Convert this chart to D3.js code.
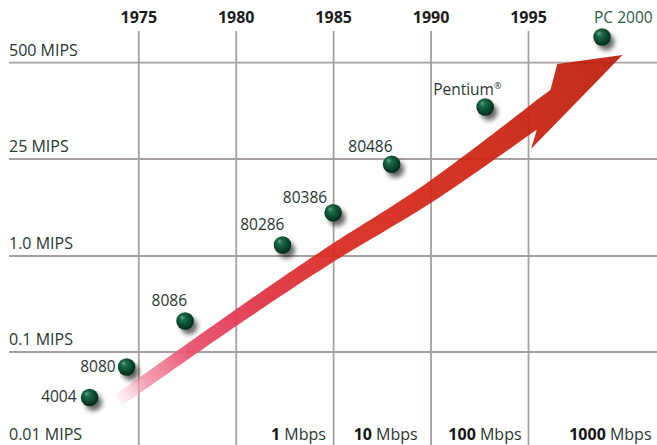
<!DOCTYPE html>
<html><head><meta charset="utf-8">
<script src="https://cdn.jsdelivr.net/npm/d3@7"></script>
<style>html,body{margin:0;padding:0;background:#fff;} svg{display:block;font-family:"Open Sans",sans-serif;}</style>
</head><body><svg id="chart" width="657" height="445"></svg>
<script>
// ---------- data ----------
const years = [1975, 1980, 1985, 1990, 1995];
const mipsTicks = [500, 25, 1.0, 0.1, 0.01];
const mipsLabels = ["500 MIPS", "25 MIPS", "1.0 MIPS", "0.1 MIPS", "0.01 MIPS"];
const chips = ["4004", "8080", "8086", "80286", "80386", "80486", "Pentium", "PC 2000"];
const chipYears = [1972.5, 1974.4, 1977.4, 1982.4, 1985.0, 1988.0, 1992.8, 1998.8];
const chipMips = [0.034, 0.07, 0.21, 1.44, 4.2, 21, 126, 1110];
const bandwidthValues = ["1", "10", "100", "1000"];
const bandwidthUnit = "Mbps";
const bandwidthYears = [1984.63, 1989.34, 1994.67, 2001.34];
const trendYears = [1974.0, 1980.0, 1984.7, 1990.0, 1995.8, 1999.85];
const trendMips = [0.032, 0.226, 0.99, 8.4, 115, 635];

// ---------- setup ----------
const W = 657, H = 445;
const svg = d3.select("#chart");
const defs = svg.append("defs");
const gridColor = "#a8a09f";
const textColor = "#2a3633";
const x = d3.scaleLinear().domain([1975, 1995]).range([138.3, 528]);
const y = d3.scaleLog().domain([0.01, 0.1, 1, 25, 500]).range([449, 352, 256, 159, 62.7]);

// sphere gradient
const rg = defs.append("radialGradient").attr("id", "sphere")
  .attr("cx", "45%").attr("cy", "42%").attr("r", "60%").attr("fx", "32%").attr("fy", "28%");
[["0%", "#62a888"], ["25%", "#1d6c4a"], ["65%", "#0a4a2f"], ["100%", "#032617"]]
  .forEach(s => rg.append("stop").attr("offset", s[0]).attr("stop-color", s[1]));
const blur = defs.append("filter").attr("id", "blur").attr("x", "-100%").attr("y", "-100%").attr("width", "300%").attr("height", "300%");
blur.append("feGaussianBlur").attr("stdDeviation", 2.8);

// ---------- grid ----------
svg.append("g").selectAll("line").data(mipsTicks).join("line")
  .attr("x1", 9).attr("x2", W).attr("y1", d => y(d)).attr("y2", d => y(d))
  .attr("stroke", gridColor).attr("stroke-width", 1.8);

const xAxis = d3.axisTop(x).tickValues(years).tickFormat(d3.format("d")).tickSize(-(H - 31)).tickPadding(8);
const gx = svg.append("g").attr("transform", "translate(0,31)").call(xAxis);
gx.select(".domain").remove();
gx.selectAll(".tick line").attr("stroke", gridColor).attr("stroke-width", 1.8);
gx.selectAll(".tick text").attr("font-size", 16).attr("font-weight", 700)
  .attr("fill", "#1b1b1b").attr("font-family", "'Open Sans',sans-serif");

// y labels
svg.append("g").selectAll("text").data(mipsTicks).join("text")
  .attr("x", 9).attr("y", d => Math.min(y(d) - 7, 440))
  .attr("font-size", 16).attr("fill", textColor)
  .text((d, i) => mipsLabels[i]);

// bottom bandwidth labels
const bl = svg.append("g").selectAll("text").data(bandwidthValues).join("text")
  .attr("x", (d, i) => x(bandwidthYears[i])).attr("y", 440)
  .attr("text-anchor", "end").attr("font-size", 16).attr("fill", textColor);
bl.append("tspan").attr("font-weight", 700).attr("fill", "#141414").text(d => d);
bl.append("tspan").text(" " + bandwidthUnit);

// ---------- arrow ----------
const tp = trendYears.map((t, i) => [x(t), y(trendMips[i])]);
const tip = tp[tp.length - 1];
const J = tp[tp.length - 2];
const body = tp.slice(0, -1);
const tmp = svg.append("path").attr("d", d3.line().curve(d3.curveCatmullRom.alpha(0.5))(body)).attr("fill", "none");
const L = tmp.node().getTotalLength();
const N = 80;
const samples = d3.range(N + 1).map(i => { const p = tmp.node().getPointAtLength(L * i / N); return [p.x, p.y]; });
tmp.remove();
const ul = Math.hypot(tip[0] - J[0], tip[1] - J[1]);
const u = [(tip[0] - J[0]) / ul, (tip[1] - J[1]) / ul];
const n = [u[1], -u[0]];
const loc = (a, b) => [J[0] + a * u[0] + b * n[0], J[1] + a * u[1] + b * n[1]];
const w0 = 13, w1 = 24;
const upper = [], lower = [];
samples.forEach((p, i) => {
  const a = samples[Math.max(0, i - 1)], b = samples[Math.min(N, i + 1)];
  let tx = b[0] - a[0], ty = b[1] - a[1]; const tl = Math.hypot(tx, ty); tx /= tl; ty /= tl;
  const nx = ty, ny = -tx;
  const f = i / N;
  const w = (w0 + (w1 - w0) * f * f) / 2;
  upper.push([p[0] + nx * w, p[1] + ny * w]);
  const lp = [p[0] - nx * w, p[1] - ny * w];
  if ((lp[0] - J[0]) * u[0] + (lp[1] - J[1]) * u[1] < -17) lower.push(lp);
});
const poly = upper.concat([loc(17, 12.5), loc(37.5, 29.9), tip, loc(-32.6, -24.8), loc(-17, -12.5)], lower.reverse());
const lg = defs.append("linearGradient").attr("id", "arrowGrad").attr("gradientUnits", "userSpaceOnUse")
  .attr("x1", tp[0][0]).attr("y1", tp[0][1]).attr("x2", tip[0]).attr("y2", tip[1]);
[[0, "#f9d6de", 0.3], [0.05, "#f08aa0", 0.85], [0.14, "#e74f6c", 1], [0.26, "#e1344b", 1], [0.42, "#d92820", 1], [0.7, "#cf2412", 1], [1, "#bb1c0a", 1]]
  .forEach(s => lg.append("stop").attr("offset", s[0]).attr("stop-color", s[1]).attr("stop-opacity", s[2]));
svg.append("path").attr("d", d3.line().curve(d3.curveLinearClosed)(poly))
  .attr("fill", "url(#arrowGrad)").attr("opacity", 0.93);

// ---------- chips ----------
const labelPos = {
  "4004": { dx: -13, dy: 5, anchor: "end" },
  "8080": { dx: -11, dy: 5, anchor: "end" },
  "8086": { dx: 2, dy: -15, anchor: "end" },
  "80286": { dx: 2, dy: -15, anchor: "end" },
  "80386": { dx: -6, dy: -10, anchor: "end" },
  "80486": { dx: 1, dy: -12, anchor: "end" },
  "Pentium": { dx: -52, dy: -12, anchor: "start" },
  "PC 2000": { dx: -8, dy: -14, anchor: "start" }
};
const g = svg.append("g").selectAll("g").data(chips).join("g")
  .attr("transform", (d, i) => `translate(${x(chipYears[i])},${y(chipMips[i])})`);
g.append("circle").attr("cx", 4).attr("cy", 5).attr("r", 8.5).attr("fill", "#000").attr("opacity", 0.6).attr("filter", "url(#blur)");
g.append("circle").attr("r", 8.8).attr("fill", "url(#sphere)");
const lt = g.append("text")
  .attr("x", d => labelPos[d].dx).attr("y", d => labelPos[d].dy)
  .attr("text-anchor", d => labelPos[d].anchor)
  .attr("font-size", 15.5)
  .attr("fill", d => d === "PC 2000" ? "#2b5a4a" : textColor);
lt.each(function (d) {
  const t = d3.select(this);
  if (d === "Pentium") {
    t.append("tspan").text("Pentium");
    t.append("tspan").attr("font-size", 9).attr("dy", -6).text("®");
  } else t.text(d);
});
</script></body></html>
